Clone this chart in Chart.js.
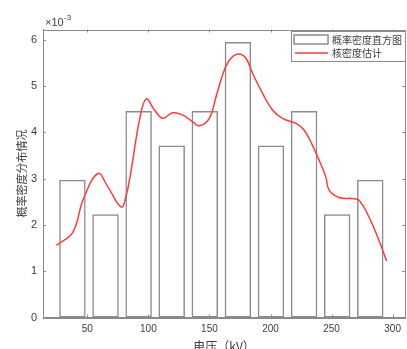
<!DOCTYPE html>
<html>
<head>
<meta charset="utf-8">
<script src="https://cdn.jsdelivr.net/npm/chart.js@4"></script>
<style>
  html, body { margin: 0; padding: 0; background: #ffffff; }
  #wrap { width: 407px; height: 349px; position: relative; }
</style>
</head>
<body>
<div id="wrap"><canvas id="c" width="407" height="349"></canvas></div>
<script>
// Histogram bin centres (kV) and probability densities (units of 1e-3)
const binCenters = [37.8, 64.9, 92.0, 119.1, 146.2, 173.3, 200.4, 227.5, 254.6, 281.7];
const densityValues = [2.974, 2.230, 4.461, 3.717, 4.461, 5.948, 3.717, 4.461, 2.230, 2.974];

// Kernel density estimate curve (kV, units of 1e-3)
const kdeX = [24.7, 38.2, 46.4, 58.7, 66.8, 77.8, 81.9, 85.9, 92.7, 98.2, 105.0, 111.8, 119.9, 128.1, 136.3, 141.7, 149.9, 155.4, 162.2, 167.6, 173.9, 179.9, 185.3, 193.5, 201.6, 209.8, 220.8, 227.5, 234.3, 239.8, 245.3, 248.0, 256.1, 267.0, 272.5, 280.6, 288.8, 295.1];
const kdeY = [1.558, 1.846, 2.532, 3.110, 2.820, 2.387, 2.641, 3.182, 4.264, 4.719, 4.481, 4.301, 4.422, 4.372, 4.227, 4.141, 4.301, 4.768, 5.346, 5.600, 5.693, 5.600, 5.275, 4.842, 4.481, 4.301, 4.193, 4.048, 3.723, 3.398, 3.037, 2.749, 2.591, 2.569, 2.532, 2.171, 1.667, 1.219];

const xTickValues = [50, 100, 150, 200, 250, 300];
const yTickValues = [0, 1, 2, 3, 4, 5, 6];

const seriesLabels = ['概率密度直方图', '核密度估计'];
const xAxisTitle = '电压（kV）';
const yAxisTitle = '概率密度分布情况';

const axisColor = '#8a8a8a';
const textColor = '#3c3c3c';
const cjkFont = '"Noto Sans CJK SC", "Noto Sans", sans-serif';
const latinFont = '"Liberation Sans", Arial, sans-serif';

const matlabAxes = {
  id: 'matlabAxes',
  afterDraw(chart) {
    const ctx = chart.ctx;
    const a = chart.chartArea;
    const xs = chart.scales.x, ys = chart.scales.y;
    ctx.save();
    // box
    ctx.strokeStyle = axisColor;
    ctx.lineWidth = 1;
    ctx.strokeRect(Math.round(a.left) + 0.5, Math.round(a.top) + 0.5,
                   Math.round(a.right - a.left), Math.round(a.bottom - a.top));
    // inward ticks
    const tl = 3;
    ctx.beginPath();
    xs.ticks.forEach(t => {
      const px = Math.round(xs.getPixelForValue(t.value)) + 0.5;
      ctx.moveTo(px, a.bottom); ctx.lineTo(px, a.bottom - tl);
      ctx.moveTo(px, a.top); ctx.lineTo(px, a.top + tl);
    });
    ys.ticks.forEach(t => {
      const py = Math.round(ys.getPixelForValue(t.value)) + 0.5;
      ctx.moveTo(a.left, py); ctx.lineTo(a.left + tl, py);
      ctx.moveTo(a.right, py); ctx.lineTo(a.right - tl, py);
    });
    ctx.stroke();

    // exponent label
    ctx.fillStyle = textColor;
    ctx.textBaseline = 'alphabetic';
    ctx.textAlign = 'left';
    ctx.font = '11px ' + latinFont;
    ctx.fillText('×10', 45, 26);
    ctx.font = '8px ' + latinFont;
    ctx.fillText('-3', 64, 20);

    // legend
    const lx = 291.5, ly = 31.5, lw = 114, lh = 30;
    ctx.fillStyle = '#ffffff';
    ctx.fillRect(lx, ly, lw, lh);
    ctx.strokeStyle = axisColor;
    ctx.strokeRect(lx, ly, lw, lh);
    const ds = chart.data.datasets;
    // histogram entry
    ctx.strokeStyle = ds[0].borderColor;
    ctx.lineWidth = 1.5;
    ctx.strokeRect(294, 35, 34, 9);
    // kde entry
    ctx.strokeStyle = ds[1].borderColor;
    ctx.lineWidth = 1.5;
    ctx.beginPath();
    ctx.moveTo(295, 53); ctx.lineTo(328, 53);
    ctx.stroke();
    ctx.fillStyle = textColor;
    ctx.font = '10px ' + cjkFont;
    ctx.textBaseline = 'middle';
    ctx.fillText(ds[0].label, 332, 40);
    ctx.fillText(ds[1].label, 332, 53);
    ctx.restore();
  }
};

new Chart(document.getElementById('c'), {
  type: 'bar',
  data: {
    datasets: [
      {
        type: 'bar',
        label: seriesLabels[0],
        data: binCenters.map((x, i) => ({ x: x, y: densityValues[i] })),
        backgroundColor: 'rgba(255,255,255,0)',
        borderColor: '#8c8c8c',
        borderWidth: 1.5,
        borderSkipped: false,
        barPercentage: 0.8,
        categoryPercentage: 1.0,
        order: 1
      },
      {
        type: 'line',
        label: seriesLabels[1],
        data: kdeX.map((x, i) => ({ x: x, y: kdeY[i] })),
        borderColor: '#ff3b3b',
        borderWidth: 1.5,
        pointRadius: 0,
        tension: 0.4,
        fill: false,
        order: 0
      }
    ]
  },
  options: {
    responsive: false,
    animation: false,
    devicePixelRatio: 1,
    layout: { padding: { left: 0, right: 1, top: 29.5, bottom: 0 } },
    plugins: { legend: { display: false }, tooltip: { enabled: false } },
    scales: {
      x: {
        type: 'linear',
        min: 13.7,
        max: 310.3,
        offset: false,
        grid: { display: false, drawTicks: false },
        border: { display: true, color: axisColor },
        afterBuildTicks: s => { s.ticks = xTickValues.map(v => ({ value: v })); },
        afterFit: s => { s.height = 31.5; },
        ticks: { color: textColor, padding: 6, maxRotation: 0, font: { family: latinFont, size: 10 } },
        title: { display: true, text: xAxisTitle, color: textColor, padding: { top: 0, bottom: -3 },
                 font: { family: cjkFont, size: 12, lineHeight: 1 } }
      },
      y: {
        type: 'linear',
        min: 0,
        max: 6.22,
        grid: { display: false, drawTicks: false },
        border: { display: true, color: axisColor },
        afterBuildTicks: s => { s.ticks = yTickValues.map(v => ({ value: v })); },
        afterFit: s => { s.width = 43; },
        ticks: { color: textColor, padding: 6, font: { family: latinFont, size: 11 } },
        title: { display: true, text: yAxisTitle, color: textColor, padding: { top: 16, bottom: 0 },
                 font: { family: cjkFont, size: 11, lineHeight: 1 } }
      }
    }
  },
  plugins: [matlabAxes]
});
</script>
</body>
</html>
